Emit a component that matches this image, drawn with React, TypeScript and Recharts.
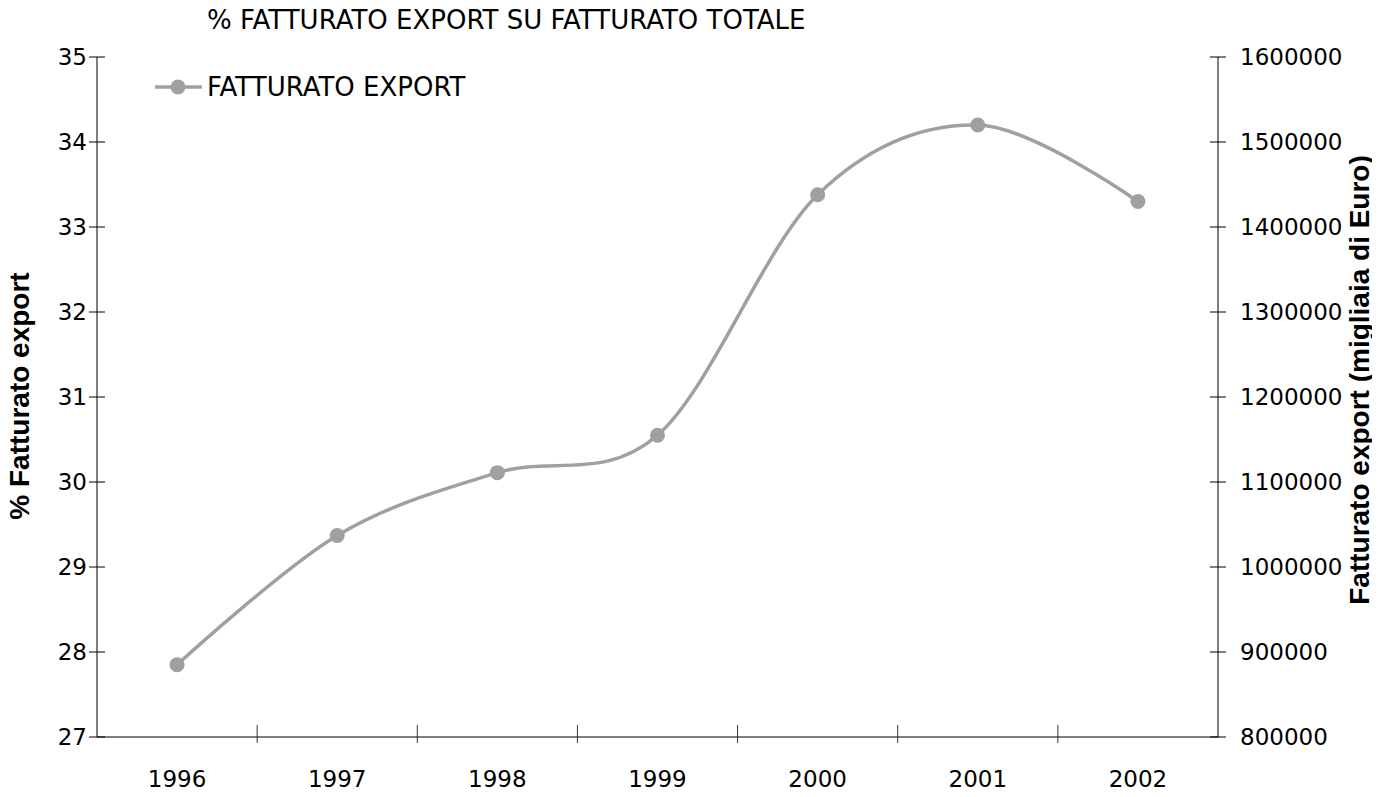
import React from 'react';
import { LineChart, Line, XAxis, YAxis } from 'recharts';

const years = ['1996', '1997', '1998', '1999', '2000', '2001', '2002'];
const exportValues = [885000, 1037000, 1111000, 1155000, 1438000, 1520000, 1430000];
const percentTicks = [27, 28, 29, 30, 31, 32, 33, 34, 35];
const valueTicks = [800000, 900000, 1000000, 1100000, 1200000, 1300000, 1400000, 1500000, 1600000];
const seriesName = 'FATTURATO EXPORT';
const chartTitle = '% FATTURATO EXPORT SU FATTURATO TOTALE';
const leftAxisTitle = '% Fatturato export';
const rightAxisTitle = 'Fatturato export (migliaia di Euro)';

const data = years.map((year, i) => ({ year, value: exportValues[i] }));

const W = 1364;
const H = 789;
const LEFT_W = 89;
const RIGHT_W = 154;
const TOP = 49;
const X_H = 60;
const PLOT_W = W - LEFT_W - RIGHT_W;
const BAND = PLOT_W / years.length;

const LINE_COLOR = '#a0a0a0';
const TICK_FONT = '"DejaVu Sans", sans-serif';
const TICK_SIZE = 23;
const LABEL_FONT = '"Liberation Sans", Arial, sans-serif';
const LABEL_SIZE = 28;

// Cardinal (Catmull-Rom like) curve factory, similar to spreadsheet smoothing
function cardinalCurve(context: any) {
  const k = 1 / 6;
  let x0 = NaN, x1 = NaN, x2 = NaN, y0 = NaN, y1 = NaN, y2 = NaN;
  let pt = 0;
  let lineState: number = NaN;
  const seg = (x: number, y: number) => {
    context.bezierCurveTo(
      x1 + k * (x2 - x0),
      y1 + k * (y2 - y0),
      x2 + k * (x1 - x),
      y2 + k * (y1 - y),
      x2,
      y2
    );
  };
  return {
    areaStart() { lineState = 0; },
    areaEnd() { lineState = NaN; },
    lineStart() { x0 = x1 = x2 = y0 = y1 = y2 = NaN; pt = 0; },
    lineEnd() {
      if (pt === 2) context.lineTo(x2, y2);
      else if (pt === 3) seg(x1, y1);
      if (lineState || (lineState !== 0 && pt === 1)) context.closePath();
      lineState = 1 - lineState;
    },
    point(xv: number, yv: number) {
      const x = +xv;
      const y = +yv;
      if (pt === 0) {
        pt = 1;
        if (lineState) context.lineTo(x, y); else context.moveTo(x, y);
      } else if (pt === 1) {
        pt = 2;
        x1 = x; y1 = y;
      } else {
        if (pt === 2) pt = 3;
        seg(x, y);
      }
      x0 = x1; x1 = x2; x2 = x;
      y0 = y1; y1 = y2; y2 = y;
    },
  };
}

const LeftTick = (props: any) => {
  const { x, y, payload } = props;
  return (
    <g>
      <line x1={x - 8} x2={x + 8} y1={y} y2={y} stroke="#000" strokeWidth={1} />
      <text x={x - 10} y={y} dy="0.36em" textAnchor="end" fontFamily={TICK_FONT} fontSize={TICK_SIZE} fill="#000">
        {payload.value}
      </text>
    </g>
  );
};

const RightTick = (props: any) => {
  const { x, y, payload } = props;
  return (
    <g>
      <line x1={x - 8} x2={x + 8} y1={y} y2={y} stroke="#000" strokeWidth={1} />
      <text x={x + 22} y={y} dy="0.36em" textAnchor="start" fontFamily={TICK_FONT} fontSize={TICK_SIZE} fill="#000">
        {payload.value}
      </text>
    </g>
  );
};

const BottomTick = (props: any) => {
  const { x, y, payload, index } = props;
  return (
    <g>
      {index > 0 && (
        <line x1={x - BAND / 2} x2={x - BAND / 2} y1={y - 12} y2={y + 6} stroke="#333" strokeWidth={1} />
      )}
      <text x={x} y={y + 42} dy="0.36em" textAnchor="middle" fontFamily={TICK_FONT} fontSize={TICK_SIZE} fill="#000">
        {payload.value}
      </text>
    </g>
  );
};

const LeftLabel = (props: any) => {
  const vb = props.viewBox || { x: 0, y: TOP, width: LEFT_W, height: 680 };
  const cx = vb.x + 11;
  const cy = vb.y + vb.height / 2 - 1;
  return (
    <text
      x={cx}
      y={cy}
      dy="0.36em"
      textAnchor="middle"
      transform={`rotate(-90, ${cx}, ${cy})`}
      fontFamily={LABEL_FONT}
      fontWeight="bold"
      fontSize={LABEL_SIZE}
      fill="#000"
    >
      {leftAxisTitle}
    </text>
  );
};

const RightLabel = (props: any) => {
  const vb = props.viewBox || { x: W - RIGHT_W, y: TOP, width: RIGHT_W, height: 680 };
  const cx = vb.x + vb.width - 13;
  const cy = vb.y + vb.height / 2 - 17;
  return (
    <text
      x={cx}
      y={cy}
      dy="0.36em"
      textAnchor="middle"
      transform={`rotate(-90, ${cx}, ${cy})`}
      fontFamily={LABEL_FONT}
      fontWeight="bold"
      fontSize={LABEL_SIZE}
      fill="#000"
    >
      {rightAxisTitle}
    </text>
  );
};

export default function App() {
  return (
    <div style={{ position: 'relative', width: W, height: H, background: '#fff' }}>
      <LineChart
        width={W}
        height={H}
        data={data}
        margin={{ top: TOP, right: 0, bottom: 0, left: 0 }}
      >
        <XAxis
          dataKey="year"
          height={X_H}
          padding={{ left: BAND / 2, right: BAND / 2 }}
          interval={0}
          tickLine={false}
          tickSize={0}
          tickMargin={0}
          axisLine={{ stroke: '#7f7f7f', strokeWidth: 2 }}
          tick={<BottomTick />}
        />
        <YAxis
          yAxisId="left"
          orientation="left"
          type="number"
          width={LEFT_W}
          domain={[27, 35]}
          ticks={percentTicks}
          interval={0}
          allowDataOverflow
          tickLine={false}
          tickSize={0}
          tickMargin={0}
          axisLine={{ stroke: '#000', strokeWidth: 1 }}
          tick={<LeftTick />}
          label={LeftLabel}
        />
        <YAxis
          yAxisId="right"
          orientation="right"
          type="number"
          width={RIGHT_W}
          domain={[800000, 1600000]}
          ticks={valueTicks}
          interval={0}
          allowDataOverflow
          tickLine={false}
          tickSize={0}
          tickMargin={0}
          axisLine={{ stroke: '#000', strokeWidth: 1 }}
          tick={<RightTick />}
          label={RightLabel}
        />
        <Line
          yAxisId="right"
          dataKey="value"
          name={seriesName}
          type={cardinalCurve as any}
          stroke={LINE_COLOR}
          strokeWidth={3.5}
          dot={{ r: 7.5, fill: LINE_COLOR, stroke: LINE_COLOR, strokeWidth: 0 }}
          activeDot={false}
          isAnimationActive={false}
        />
      </LineChart>
      <svg
        width={W}
        height={110}
        style={{ position: 'absolute', left: 0, top: 0, pointerEvents: 'none', overflow: 'visible' }}
      >
        <text x={199} y={21} fontFamily={TICK_FONT} fontSize={26} fill="#000">
          {chartTitle}
        </text>
        <line x1={147} x2={194} y1={79} y2={79} stroke={LINE_COLOR} strokeWidth={3.5} />
        <circle cx={170} cy={79} r={7.5} fill={LINE_COLOR} />
        <text x={199} y={88} fontFamily={TICK_FONT} fontSize={26} fill="#000">
          {seriesName}
        </text>
      </svg>
    </div>
  );
}
